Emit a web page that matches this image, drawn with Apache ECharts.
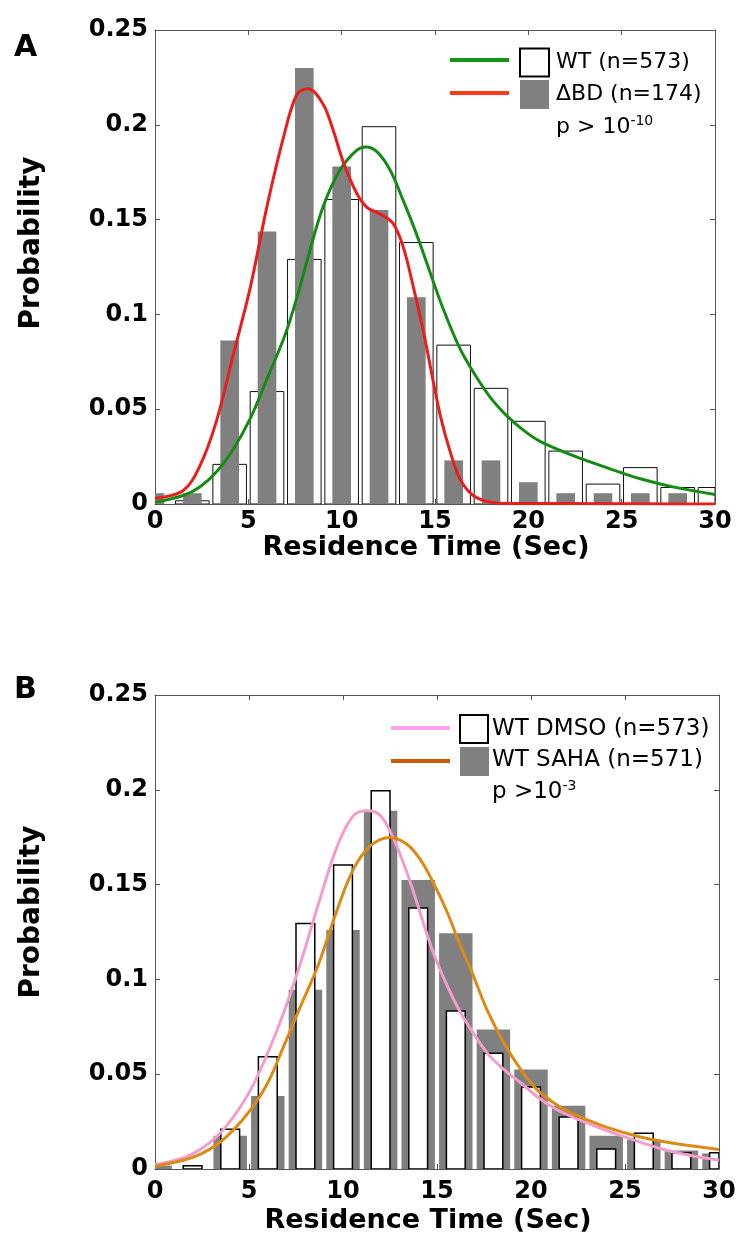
<!DOCTYPE html>
<html><head><meta charset="utf-8">
<script src="https://cdn.jsdelivr.net/npm/echarts@6/dist/echarts.min.js"></script>
<style>html,body{margin:0;padding:0;background:#fff}#c{width:741px;height:1251px}</style>
</head><body><div id="c"></div>
<script>
// ---------- data ----------
const binCenters = [0, 2, 4, 6, 8, 10, 12, 14, 16, 18, 20, 22, 24, 26, 28, 30];
// Panel A
const wtA  = [0, 0.0017, 0.0209, 0.0593, 0.129, 0.1606, 0.199, 0.1379, 0.0838, 0.061, 0.0436, 0.0279, 0.0105, 0.0192, 0.0087, 0.0087];
const dbdA = [0.0057, 0.0057, 0.0862, 0.1437, 0.2299, 0.178, 0.155, 0.109, 0.023, 0.023, 0.0115, 0.0057, 0.0057, 0.0057, 0.0057, 0];
const greenX = [0, 1.5, 2.4, 3.3, 4.2, 5.1, 6.0, 7.0, 7.75, 8.15, 9.0, 9.9, 10.8, 11.3, 11.9, 12.6, 13.3, 14.0, 14.7, 15.4, 16.3, 17.05, 17.95, 18.85, 19.75, 20.6, 22.4, 24.2, 26.0, 27.8, 30];
const greenY = [0.001, 0.0045, 0.009, 0.017, 0.029, 0.045, 0.066, 0.090, 0.114, 0.1285, 0.1566, 0.176, 0.1865, 0.1883, 0.1857, 0.176, 0.160, 0.1426, 0.1232, 0.1039, 0.0827, 0.0696, 0.0564, 0.0465, 0.0388, 0.0332, 0.0255, 0.0192, 0.0133, 0.0089, 0.005];
const redX = [0, 1.5, 2.4, 3.3, 4.2, 5.1, 6.0, 6.9, 7.6, 8.2, 9.0, 9.55, 10.1, 10.8, 11.35, 12.05, 12.75, 13.3, 13.85, 14.4, 14.9, 15.3, 15.8, 16.35, 17.05, 17.95, 19, 22, 26, 30];
const redY = [0.003, 0.007, 0.020, 0.044, 0.079, 0.114, 0.157, 0.194, 0.216, 0.219, 0.211, 0.197, 0.180, 0.164, 0.1565, 0.153, 0.148, 0.1355, 0.114, 0.090, 0.065, 0.046, 0.028, 0.013, 0.0045, 0.001, 0.0003, 0.0002, 0.0001, 0];
// Panel B
const dmsoB = [0, 0.0017, 0.0209, 0.0592, 0.1295, 0.1604, 0.1995, 0.1377, 0.0833, 0.061, 0.0432, 0.0274, 0.0105, 0.0189, 0.0086, 0.0086];
const sahaB = [0.0018, 0, 0.0175, 0.0385, 0.0946, 0.126, 0.189, 0.1524, 0.1243, 0.0736, 0.0525, 0.0333, 0.0175, 0.0156, 0.0098, 0.0082];
const pinkX = [0, 1.5, 2.4, 3.3, 4.2, 5.1, 6.0, 6.85, 7.75, 8.7, 9.7, 10.55, 11.3, 12.0, 12.7, 13.4, 14.1, 14.8, 15.55, 16.25, 16.8, 17.65, 18.55, 19.45, 20.3, 21.2, 22.1, 23.85, 25.65, 27.4, 29.2, 30];
const pinkY = [0.0024, 0.0059, 0.0103, 0.0173, 0.0279, 0.042, 0.0613, 0.0825, 0.1089, 0.140, 0.1704, 0.1863, 0.1889, 0.1863, 0.174, 0.1564, 0.1353, 0.1142, 0.0965, 0.0825, 0.0737, 0.0614, 0.0525, 0.0455, 0.0384, 0.0323, 0.0279, 0.0209, 0.0147, 0.0094, 0.0059, 0.0046];
const orangeX = [0, 1.5, 2.4, 3.3, 4.2, 5.1, 6.0, 6.85, 7.75, 8.7, 9.7, 10.55, 11.45, 12.5, 13.4, 14.1, 14.8, 15.55, 16.25, 16.8, 17.65, 18.55, 19.45, 20.3, 21.2, 22.1, 23.85, 25.65, 27.4, 30];
const orangeY = [0.0015, 0.0046, 0.0077, 0.0129, 0.0209, 0.0314, 0.0455, 0.0648, 0.086, 0.108, 0.137, 0.158, 0.1704, 0.1749, 0.1713, 0.1634, 0.1511, 0.1353, 0.1176, 0.1053, 0.0842, 0.0666, 0.0525, 0.042, 0.035, 0.0297, 0.0226, 0.0173, 0.0138, 0.0103];
// tick labels
const xTickLabels = ['0', '5', '10', '15', '20', '25', '30'];
const yTickLabels = ['0', '0.05', '0.1', '0.15', '0.2', '0.25'];

// ---------- chart ----------
const FONT = 'DejaVu Sans';
const AX = '#555';
const chart = echarts.init(document.getElementById('c'), null, {renderer: 'canvas'});

function pairs(xs, ys) { return xs.map((x, i) => [x, ys[i]]); }
function bins(vals) { return binCenters.map((c, i) => [c, vals[i]]); }

function barRenderer(w, fill, stroke, lw) {
  return function (params, api) {
    const x = api.value(0), y = api.value(1);
    if (!(y > 0)) return null;
    const p0 = api.coord([x - w / 2, y]);
    const p1 = api.coord([x + w / 2, 0]);
    const cs = params.coordSys;
    const shape = echarts.graphic.clipRectByRect(
      {x: p0[0], y: p0[1], width: p1[0] - p0[0], height: p1[1] - p0[1]},
      {x: cs.x, y: cs.y, width: cs.width, height: cs.height});
    if (!shape) return null;
    return {type: 'rect', shape: shape, style: {fill: fill, stroke: stroke, lineWidth: lw}};
  };
}

function xAx(gi, pos, show, margin, gap) {
  return {
    type: 'value', gridIndex: gi, position: pos, min: 0, max: 30, interval: 5,
    axisLine: {show: true, onZero: false, lineStyle: {color: AX, width: 1}},
    axisTick: {show: true, inside: true, length: 5, lineStyle: {color: AX}},
    splitLine: {show: false},
    axisLabel: {show: show, margin: margin, fontFamily: FONT, fontWeight: 'bold', fontSize: 24, color: '#000',
      formatter: v => xTickLabels[Math.round(v / 5)]},
    name: show ? 'Residence Time (Sec)' : '', nameLocation: 'middle', nameGap: gap,
    nameTextStyle: {fontFamily: FONT, fontWeight: 'bold', fontSize: 27, color: '#000', padding: [0, 18, 0, 0]}
  };
}
function yAx(gi, pos, show) {
  return {
    type: 'value', gridIndex: gi, position: pos, min: 0, max: 0.25, interval: 0.05,
    axisLine: {show: true, onZero: false, lineStyle: {color: AX, width: 1}},
    axisTick: {show: true, inside: true, length: 5, lineStyle: {color: AX}},
    splitLine: {show: false},
    axisLabel: {show: show, margin: 7, fontFamily: FONT, fontWeight: 'bold', fontSize: 24, color: '#000',
      formatter: v => yTickLabels[Math.round(v / 0.05)]}
  };
}

function line(xi, yi, xs, ys, color, w) {
  return {type: 'line', xAxisIndex: xi, yAxisIndex: yi, data: pairs(xs, ys), smooth: 0.35,
    symbol: 'none', lineStyle: {color: color, width: w}, clip: true, silent: true, z: 5};
}
function custom(xi, yi, vals, w, fill, stroke, lw, z) {
  return {type: 'custom', xAxisIndex: xi, yAxisIndex: yi, data: bins(vals), renderItem: barRenderer(w, fill, stroke, lw),
    silent: true, z: z, clip: true};
}

function txt(x, y, text, size, bold, extra) {
  return Object.assign({type: 'text', x: x, y: y, style: {text: text, fontFamily: FONT, fontSize: size,
    fontWeight: bold ? 'bold' : 'normal', fill: '#000', align: 'left', verticalAlign: 'middle'}}, extra || {});
}

const option = {
  backgroundColor: '#fff',
  animation: false,
  grid: [
    {left: 155, top: 30, width: 560, height: 474, outerBoundsMode: 'none', containLabel: false},
    {left: 155, top: 695, width: 564, height: 474, outerBoundsMode: 'none', containLabel: false}
  ],
  xAxis: [xAx(0, 'bottom', true, 6, 30), xAx(0, 'top', false, 6, 0), xAx(1, 'bottom', true, 11, 38), xAx(1, 'top', false, 11, 0)],
  yAxis: [yAx(0, 'left', true), yAx(0, 'right', false), yAx(1, 'left', true), yAx(1, 'right', false)],
  series: [
    custom(0, 0, wtA, 1.8, '#fff', '#111', 1, 2),
    custom(0, 0, dbdA, 1.0, '#808080', null, 0, 3),
    line(0, 0, greenX, greenY, '#148c14', 3),
    line(0, 0, redX, redY, '#ec1c1c', 3),
    custom(2, 2, sahaB, 1.78, '#808080', null, 0, 2),
    custom(2, 2, dmsoB, 1.0, '#fff', '#000', 1.5, 3),
    line(2, 2, pinkX, pinkY, '#f49ccc', 3),
    line(2, 2, orangeX, orangeY, '#dd8a14', 3)
  ],
  graphic: [
    // panel letters and y titles
    txt(14, 48, 'A', 30, true),
    txt(14, 690, 'B', 30, true),
    txt(32, 243, 'Probability', 28, true, {rotation: Math.PI / 2, style: {text: 'Probability', fontFamily: FONT, fontSize: 28, fontWeight: 'bold', fill: '#000', align: 'center', verticalAlign: 'middle'}}),
    txt(32, 912, 'Probability', 28, true, {rotation: Math.PI / 2, style: {text: 'Probability', fontFamily: FONT, fontSize: 28, fontWeight: 'bold', fill: '#000', align: 'center', verticalAlign: 'middle'}}),
    // legend A
    {type: 'line', shape: {x1: 450, y1: 60, x2: 509, y2: 60}, style: {stroke: '#149614', lineWidth: 4}, z: 10},
    {type: 'line', shape: {x1: 450, y1: 93, x2: 509, y2: 93}, style: {stroke: '#ff3a1c', lineWidth: 4}, z: 10},
    {type: 'rect', shape: {x: 520, y: 48.5, width: 29, height: 28}, style: {fill: '#fff', stroke: '#000', lineWidth: 2}, z: 10},
    {type: 'rect', shape: {x: 520, y: 80, width: 29, height: 29}, style: {fill: '#808080'}, z: 10},
    txt(556, 62, 'WT (n=573)', 22, false, {z: 10}),
    txt(556, 94, 'ΔBD (n=174)', 22, false, {z: 10}),
    {type: 'text', x: 556, y: 127, z: 10, style: {text: '{b|p > 10}{s|-10}', fontFamily: FONT, fill: '#000', align: 'left', verticalAlign: 'middle',
      rich: {b: {fontFamily: FONT, fontSize: 22, lineHeight: 26, fill: '#000'}, s: {fontFamily: FONT, fontSize: 14, lineHeight: 14, verticalAlign: 'top', fill: '#000'}}}},
    // legend B
    {type: 'line', shape: {x1: 391, y1: 728, x2: 450, y2: 728}, style: {stroke: '#ffa6f2', lineWidth: 4}, z: 10},
    {type: 'line', shape: {x1: 391, y1: 761, x2: 450, y2: 761}, style: {stroke: '#cc5a00', lineWidth: 4}, z: 10},
    {type: 'rect', shape: {x: 460, y: 715, width: 28, height: 28}, style: {fill: '#fff', stroke: '#000', lineWidth: 2}, z: 10},
    {type: 'rect', shape: {x: 460, y: 747, width: 29, height: 29}, style: {fill: '#808080'}, z: 10},
    txt(492, 729, 'WT DMSO (n=573)', 23, false, {z: 10}),
    txt(492, 760, 'WT SAHA (n=571)', 23, false, {z: 10}),
    {type: 'text', x: 492, y: 792, z: 10, style: {text: '{b|p >10}{s|-3}', fontFamily: FONT, fill: '#000', align: 'left', verticalAlign: 'middle',
      rich: {b: {fontFamily: FONT, fontSize: 23, lineHeight: 26, fill: '#000'}, s: {fontFamily: FONT, fontSize: 14, lineHeight: 14, verticalAlign: 'top', fill: '#000'}}}}
  ]
};
chart.setOption(option);
</script></body></html>
